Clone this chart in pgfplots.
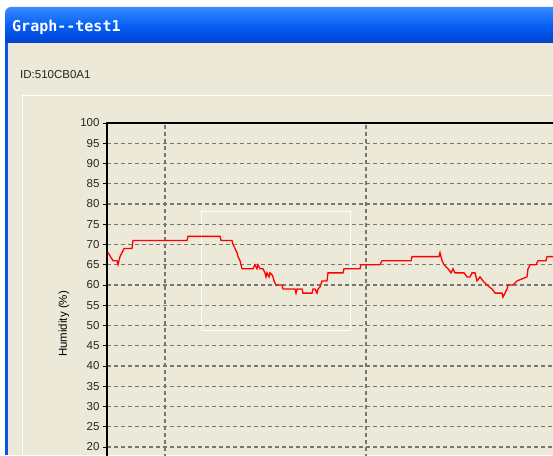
\documentclass[border=0pt]{standalone}
\usepackage{pgfplots}
\pgfplotsset{compat=1.18}
\usepackage{fontspec}
\setmainfont{Liberation Sans}
\newfontfamily\titlefont{DejaVu Sans Mono}
\definecolor{xpbeige}{HTML}{ECE9D8}
\definecolor{xpblue}{HTML}{0A54E6}
\definecolor{xptop}{HTML}{3A8BFF}
\definecolor{xpmid}{HTML}{0660F4}
\definecolor{xpbot}{HTML}{0043D0}
\definecolor{gridgray}{HTML}{767676}
\begin{document}
\begin{tikzpicture}[x=1pt,y=1pt]
\useasboundingbox (0,0) rectangle (553,455);
\clip (0,0) rectangle (553,455);
\fill[white] (0,0) rectangle (553,455);
\fill[xpbeige] (5,0) rectangle (553,412);
\fill[xpblue] (5,0) rectangle (7.5,420);
\shade[top color=xptop, bottom color=xpbot, middle color=xpmid]
  (5,412) [rounded corners=6pt] -- (5,448) [sharp corners] -- (553,448) -- (553,412) -- cycle;
\node[anchor=base west, inner sep=0, text=white, font=\titlefont\bfseries\fontsize{15}{15}\selectfont] at (12,423) {Graph--test1};
\node[anchor=base west, inner sep=0, font=\fontsize{11.5}{13}\selectfont, text=black!85] at (20,376) {ID:510CB0A1};
\draw[white, line width=1pt] (22,0) -- (22,359) -- (553,359);
\draw[white, line width=1pt] (201,243) rectangle (350,125);
\begin{axis}[
  scale only axis,
  width=493pt, height=405pt,
  anchor=south west, at={(107pt,-73pt)},
  xmin=107, xmax=600, ymin=0, ymax=100,
  xtick={165,366,567}, xticklabels={},
  xtick style={draw=none},
  ytick={20,25,...,100},
  tick align=outside, major tick length=4pt,
  ytick style={black, line width=0.8pt},
  yticklabel style={font=\fontsize{11.5}{13}\selectfont, text=black!85},
  /pgf/number format/assume math mode=true,
  xmajorgrids, ymajorgrids,
  grid style={gridgray, line width=1.1pt, dash pattern=on 4pt off 3pt},
  axis line style={black, line width=1.8pt},
  clip=false,
]
\addplot[red, line width=1.3pt, mark=none] coordinates {
(108,68) (113,66) (117,66) (118,65) (120,67) (122,68) (124,69) (132,69) (133,71)
(187,71) (188,72) (220,72) (221,71) (232,71) (233,70) (235,69) (237,68) (238,67)
(240,66) (242,64) (253,64) (255,65) (257,64) (258,65) (260,64) (263,64) (265,63)
(266,62) (267,63) (269,62) (270,63) (272,62.5) (273,62) (274,61) (276,60) (282,60)
(283,59) (295,59) (296,58) (297,59) (302,59) (303,58) (312,58) (313,59) (315,59)
(317,58) (318,59) (320,59.5) (322,61) (327,61) (328,63) (343,63) (344,64) (360,64)
(361,65) (380,65) (382,66) (411,66) (412,67) (439,67) (440,68) (442,66) (444,65)
(448,64) (451,63) (453,64) (455,63) (464,63) (467,62) (470,62) (472,63) (475,63)
(477,61) (480,62) (483,61) (487,60) (492,59) (495,58) (498,58) (502,58) (503,57)
(507,59) (508,60) (513,60) (517,61) (527,62) (528,64) (530,65) (536,65) (538,66)
(546,66) (547,67) (560,67)
};
\end{axis}
\node[rotate=90, inner sep=0, font=\fontsize{11.5}{13}\selectfont, text=black] at (64,131) {Humidity (\%)};
\end{tikzpicture}
\end{document}
